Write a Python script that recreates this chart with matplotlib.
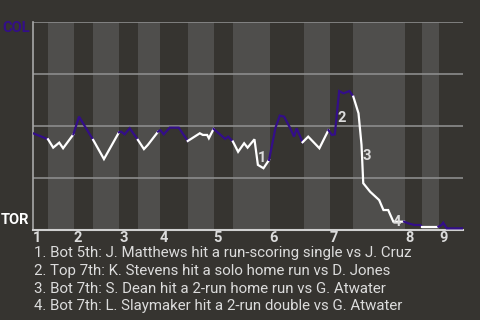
import numpy as np
import matplotlib.pyplot as plt

# half-inning boundaries on the game-progress axis (0..100)
half_bounds = [0, 3.5, 9.5, 14, 20, 24.5, 29.5, 36, 42, 46.5, 55, 63, 69,
               74.5, 86.5, 90.5, 94.5, 100]
innings = ['1', '2', '3', '4', '5', '6', '7', '8', '9']

# win probability for COL after each play
progress = [0, 1.6, 3.5,
            4.7, 6.1, 7.0, 9.4,
            10.7, 14.0,
            16.5, 20.0,
            20.5, 21.3, 22.5, 24.4,
            25.8, 26.7, 29.1,
            29.6, 30.4, 31.8, 33.9, 36.0,
            38.8, 39.5, 40.5, 40.9, 42.0,
            44.7, 45.4, 46.5,
            47.7, 49.1, 49.9, 51.5, 52.3, 53.6, 54.9,
            56.4, 57.4, 58.4, 59.8, 60.7, 61.3, 62.7,
            64.0, 66.6, 68.7,
            69.5, 70.2, 71.2, 72.2, 73.6, 74.5,
            75.7, 76.4, 76.8, 78.4, 80.5, 81.5, 82.6, 83.8, 86.3,
            87.3, 88.7, 90.0, 90.5,
            94.3,
            95.0, 95.4, 96.2, 100]
col_wp = [0.465, 0.452, 0.436,
          0.396, 0.420, 0.393, 0.460,
          0.545, 0.433,
          0.341, 0.470,
          0.473, 0.460, 0.489, 0.433,
          0.389, 0.409, 0.473,
          0.480, 0.460, 0.492, 0.492, 0.428,
          0.465, 0.457, 0.457, 0.441, 0.486,
          0.438, 0.449, 0.425,
          0.376, 0.417, 0.396, 0.436, 0.313, 0.297, 0.337,
          0.492, 0.550, 0.545, 0.490, 0.449, 0.489, 0.422,
          0.449, 0.393, 0.480,
          0.457, 0.460, 0.668, 0.657, 0.668, 0.641,
          0.561, 0.409, 0.225, 0.184, 0.144, 0.096, 0.096, 0.040, 0.040,
          0.032, 0.024, 0.024, 0.016,
          0.016,
          0.024, 0.035, 0.008, 0.008]

# key plays: label, position, probability where label sits
key_labels = ['1', '2', '3', '4']
key_x = [52.3, 70.9, 76.7, 83.7]
key_y = [0.346, 0.538, 0.356, 0.038]
notes = ['1. Bot 5th: J. Matthews hit a run-scoring single vs J. Cruz',
         '2. Top 7th: K. Stevens hit a solo home run vs D. Jones',
         '3. Bot 7th: S. Dean hit a 2-run home run vs G. Atwater',
         '4. Bot 7th: L. Slaymaker hit a 2-run double vs G. Atwater']

bg = '#363430'
band = '#4f4e4c'
purple = '#330e88'
txt = '#dcdcdc'

plt.rcParams['font.family'] = ['Roboto', 'DejaVu Sans']

fig = plt.figure(figsize=(4.8, 3.2), dpi=100, facecolor=bg)
ax = fig.add_axes([33 / 480, 90 / 320, 430 / 480, 208 / 320])
ax.set_facecolor(bg)

# shade bottom halves
for i in range(1, len(half_bounds) - 1, 2):
    ax.axvspan(half_bounds[i], half_bounds[i + 1], color=band, lw=0, zorder=0)

for yv in [0.25, 0.5, 0.75, 1.0]:
    ax.axhline(yv, color='#8c8c8c', lw=1.2, zorder=1)

x = np.array(progress)
y = np.array(col_wp)
half = np.clip(np.searchsorted(half_bounds, x, side='left') - 1, 0, None)
for h in range(len(half_bounds) - 1):
    idx = np.where(half == h)[0]
    if len(idx) == 0:
        continue
    if idx[0] > 0:
        idx = np.concatenate([[idx[0] - 1], idx])
    color = purple if h % 2 == 0 else 'white'
    ax.plot(x[idx], y[idx], color=color, lw=1.6, zorder=3,
            solid_joinstyle='miter')

for lab, kx, ky in zip(key_labels, key_x, key_y):
    ax.text(kx, ky, lab, color=txt, fontsize=10.5, fontweight='bold',
            ha='left', va='center', zorder=4)

ax.set_xlim(0, 100)
ax.set_ylim(0, 1)
starts = half_bounds[0:-1:2]
ax.set_xticks(starts)
ax.set_xticklabels(innings, ha='left', color=txt, fontsize=10.5,
                   fontweight='bold')
ax.tick_params(axis='x', length=0, pad=1)
ax.set_yticks([])
for s in ['top', 'right']:
    ax.spines[s].set_visible(False)
ax.spines['bottom'].set_color('#d0d0d0')
ax.spines['bottom'].set_linewidth(1.5)
ax.spines['left'].set_color('#a8a8a8')
ax.spines['left'].set_linewidth(1.2)

ax.text(-0.008, 0.97, 'COL', transform=ax.transAxes, color=purple,
        fontsize=10.5, fontweight='bold', ha='right', va='center')
ax.text(-0.008, 0.05, 'TOR', transform=ax.transAxes, color='white',
        fontsize=10.5, fontweight='bold', ha='right', va='center')

for i, note in enumerate(notes):
    fig.text(34 / 480, 1 - (253 + 17.8 * i) / 320, note, color=txt,
             fontsize=10.8, ha='left', va='center')

fig.savefig('out.png', dpi=100, facecolor=bg)
